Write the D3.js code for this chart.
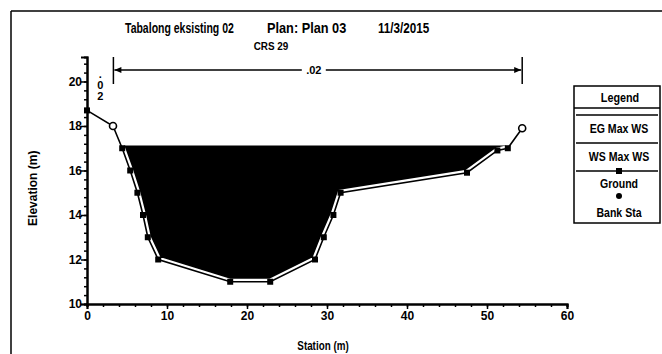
<!DOCTYPE html>
<html>
<head>
<meta charset="utf-8">
<script src="https://cdn.jsdelivr.net/npm/d3@7"></script>
<style>
  body { margin: 0; background: #fff; }
  text { font-family: "Liberation Sans", Arial, sans-serif; font-weight: bold; fill: #000; }
</style>
</head>
<body>
<svg id="chart" width="662" height="354"></svg>
<script>
// cross section CRS 29, ground points (station m, elevation m)
const station   = [0, 3.25, 4.4, 5.4, 6.3, 7.0, 7.6, 8.9, 17.9, 22.9, 28.5, 29.6, 30.8, 31.7, 47.5, 51.3, 52.6, 54.4];
const elevation = [18.7, 18.0, 17.0, 16.0, 15.0, 14.0, 13.0, 12.0, 11.0, 11.0, 12.0, 13.0, 14.0, 15.0, 15.9, 16.9, 17.0, 17.9];
const bankIdx = [1, 17];          // points drawn as bank stations
const wsMax = 17.12;              // WS Max WS
const manningN = [".02", ".02"];  // left overbank, channel
const nBreaks = [0, 3.3, 54.4];
const xTicks = [0, 10, 20, 30, 40, 50, 60];
const yTicks = [10, 12, 14, 16, 18, 20];
const titleParts = ["Tabalong eksisting 02", "Plan: Plan 03", "11/3/2015"];
const legendItems = ["EG Max WS", "WS Max WS", "Ground", "Bank Sta"];

const svg = d3.select("#chart");
const x = d3.scaleLinear().domain([0, 60]).range([87, 567]);
const y = d3.scaleLinear().domain([10, 21.1]).range([304, 57]);

// condensed bold text (the original uses a narrow font)
function narrow(parent, tx, ty, str, size, sx, anchor) {
  return parent.append("text").attr("transform", `translate(${tx},${ty}) scale(${sx},1)`)
    .attr("text-anchor", anchor || "start").style("font-size", size + "px").text(str);
}

// page frame
svg.append("line").attr("x1", 11).attr("y1", 11).attr("x2", 662).attr("y2", 11).attr("stroke", "#000").attr("stroke-width", 1.5);
svg.append("line").attr("x1", 11).attr("y1", 11).attr("x2", 11).attr("y2", 354).attr("stroke", "#000").attr("stroke-width", 1.5);

// titles
const titleX = [125, 267, 378], titleSx = [0.7, 0.85, 0.78];
titleParts.forEach((t, i) => narrow(svg, titleX[i], 33, t, 15, titleSx[i]));
narrow(svg, 271, 50, "CRS 29", 11, 0.9, "middle");

// water fill between ground and WS
const pts = station.map((s, i) => [s, elevation[i]]);
function cross(a, b) { const t = (wsMax - a[1]) / (b[1] - a[1]); return [a[0] + t * (b[0] - a[0]), wsMax]; }
let poly = [];
for (let i = 0; i < pts.length - 1; i++) {
  const a = pts[i], b = pts[i + 1];
  if (a[1] >= wsMax && b[1] < wsMax) poly.push(cross(a, b));
  if (b[1] < wsMax) poly.push(b);
  if (a[1] < wsMax && b[1] >= wsMax) poly.push(cross(a, b));
}
svg.append("path").attr("d", d3.line().x(d => x(d[0])).y(d => y(d[1]))(poly) + "Z").attr("fill", "#000");

// ground line with white halo
const gLine = d3.line().x(d => x(d[0])).y(d => y(d[1]));
svg.append("path").attr("d", gLine(pts.slice(1))).attr("fill", "none").attr("stroke", "#fff").attr("stroke-width", 6);
svg.append("path").attr("d", gLine(pts)).attr("fill", "none").attr("stroke", "#000").attr("stroke-width", 1.6);

svg.selectAll(".gpt").data(pts.filter((d, i) => !bankIdx.includes(i))).join("rect")
  .attr("x", d => x(d[0]) - 3).attr("y", d => y(d[1]) - 3).attr("width", 6).attr("height", 6).attr("fill", "#000");
svg.selectAll(".bank").data(bankIdx.map(i => pts[i])).join("circle")
  .attr("cx", d => x(d[0])).attr("cy", d => y(d[1])).attr("r", 3.5)
  .attr("fill", "#fff").attr("stroke", "#000").attr("stroke-width", 1.6);

// axes
const yAxis = svg.append("g").attr("transform", `translate(${x(0)},0)`);
yAxis.call(d3.axisLeft(y).tickValues(d3.range(10, 21.01, 0.4)).tickSize(3).tickFormat(""));
yAxis.call(g => g.append("g").call(d3.axisLeft(y).tickValues(yTicks).tickSize(6).tickFormat(d3.format("d"))));
yAxis.selectAll(".domain").attr("stroke-width", 2);
yAxis.selectAll("text").style("font-size", "12px").attr("x", -5);
yAxis.selectAll("line").attr("stroke-width", 1.5);

const xAxis = svg.append("g").attr("transform", `translate(0,${y(10)})`);
xAxis.call(d3.axisBottom(x).tickValues(d3.range(0, 60.1, 2)).tickSize(3).tickFormat(""));
xAxis.call(g => g.append("g").call(d3.axisBottom(x).tickValues(xTicks).tickSize(5).tickFormat(d3.format("d"))));
xAxis.selectAll(".domain").attr("stroke-width", 2);
xAxis.selectAll("text").style("font-size", "12px").attr("y", 7);
xAxis.selectAll("line").attr("stroke-width", 1.5);

svg.append("text").attr("transform", `translate(37,${y(15.2)}) rotate(-90)`).attr("text-anchor", "middle")
  .style("font-size", "12px").text("Elevation (m)");
narrow(svg, 323, 350, "Station (m)", 12, 0.82, "middle");

// Manning's n bar
const barY = 70;
svg.selectAll(".nbar").data(nBreaks.slice(1)).join("line")
  .attr("x1", d => x(d)).attr("x2", d => x(d)).attr("y1", 57).attr("y2", 84).attr("stroke", "#000").attr("stroke-width", 1.5);
const mid = x((nBreaks[1] + nBreaks[2]) / 2) - 4;
svg.append("line").attr("x1", x(nBreaks[1]) + 1).attr("x2", mid - 12).attr("y1", barY).attr("y2", barY).attr("stroke", "#000").attr("stroke-width", 1.5);
svg.append("line").attr("x1", mid + 12).attr("x2", x(nBreaks[2]) - 1).attr("y1", barY).attr("y2", barY).attr("stroke", "#000").attr("stroke-width", 1.5);
svg.append("path").attr("d", `M${x(nBreaks[1]) + 1},${barY} l7,-3 v6 Z`).attr("fill", "#000");
svg.append("path").attr("d", `M${x(nBreaks[2]) - 1},${barY} l-7,-3 v6 Z`).attr("fill", "#000");
svg.append("text").attr("x", mid).attr("y", barY + 4).attr("text-anchor", "middle").style("font-size", "11px").text(manningN[1]);
// left overbank n, stacked vertically in one text
const lx = x((nBreaks[0] + nBreaks[1]) / 2);
const vt = svg.append("text").attr("text-anchor", "middle").style("font-size", "11px");
manningN[0].split("").forEach((c, i) => {
  vt.append("tspan").attr("x", lx).attr("y", 78 + i * 11).text(c);
});

// legend
const lg = svg.append("g");
lg.append("rect").attr("x", 574).attr("y", 86).attr("width", 86).attr("height", 137).attr("fill", "#fff").attr("stroke", "#000").attr("stroke-width", 1.5);
narrow(lg, 620, 102, "Legend", 12, 0.9, "middle");
lg.append("line").attr("x1", 574).attr("x2", 660).attr("y1", 108).attr("y2", 108).attr("stroke", "#000").attr("stroke-width", 1.5);
const rowY = [115, 143, 171, 196];
const textY = [133, 161, 188, 217];
legendItems.forEach((t, i) => narrow(lg, 619, textY[i], t, 12, 0.88, "middle"));
[0, 1, 2].forEach(i => lg.append("line").attr("x1", 576).attr("x2", 658).attr("y1", rowY[i]).attr("y2", rowY[i]).attr("stroke", "#000").attr("stroke-width", 1.5));
lg.append("rect").attr("x", 616).attr("y", rowY[2] - 3).attr("width", 6).attr("height", 6).attr("fill", "#000");
lg.append("circle").attr("cx", 619).attr("cy", rowY[3]).attr("r", 3).attr("fill", "#000");
</script>
</body>
</html>
